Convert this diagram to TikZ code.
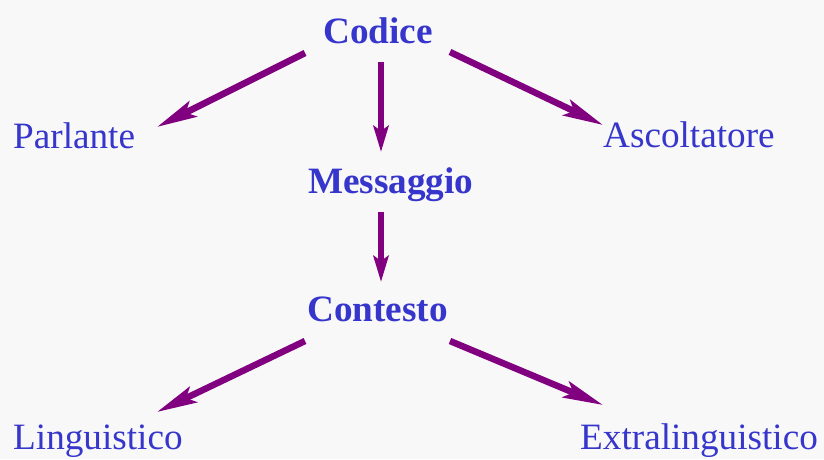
\documentclass[tikz,border=0pt]{standalone}
\usepackage{fontspec}
\setmainfont{Liberation Serif}
\usetikzlibrary{arrows.meta,calc}
\definecolor{txt}{HTML}{3636CC}
\definecolor{arr}{HTML}{800080}
\definecolor{bg}{HTML}{F8F8F8}
\begin{document}
\begin{tikzpicture}[x=1pt,y=-1pt,
  lbl/.style={anchor=base west,inner sep=0pt,text=txt,font=\fontsize{37.2}{40}\selectfont},
  blbl/.style={lbl,font=\fontsize{37.2}{40}\selectfont\bfseries},
  diagarrow/.style={draw=arr,line width=6.5pt,-{Stealth[length=40pt,width=17pt,inset=8pt]}},
  vertarrow/.style={draw=arr,line width=6.5pt,-{Stealth[length=26pt,width=15pt,inset=5pt]}}]
\fill[bg] (0,0) rectangle (824,459);
\useasboundingbox (0,0) rectangle (824,459);
\node[blbl] (codice) at (323,43) {Codice};
\node[lbl] (parlante) at (13,148) {Parlante};
\node[lbl] (ascoltatore) at (603,147) {Ascoltatore};
\node[blbl] (messaggio) at (308,193) {Messaggio};
\node[blbl] (contesto) at (307,321) {Contesto};
\node[lbl] (linguistico) at (13,449) {Linguistico};
\node[lbl] (extra) at (580,449) {Extralinguistico};
\draw[diagarrow] ($(codice.base west)+(-18,10)$) -- ($(parlante.base west)+(144,-21)$);
\draw[vertarrow] ($(codice.base west)+(58,19)$) -- ($(messaggio.base west)+(73,-41)$);
\draw[diagarrow] ($(codice.base west)+(127,9)$) -- ($(ascoltatore.base west)+(0,-22)$);
\draw[vertarrow] ($(messaggio.base west)+(73,19)$) -- ($(contesto.base west)+(74,-39)$);
\draw[diagarrow] ($(contesto.base west)+(-2,20)$) -- ($(linguistico.base west)+(144,-37)$);
\draw[diagarrow] ($(contesto.base west)+(143,20)$) -- ($(extra.base west)+(23,-44)$);
\end{tikzpicture}
\end{document}
